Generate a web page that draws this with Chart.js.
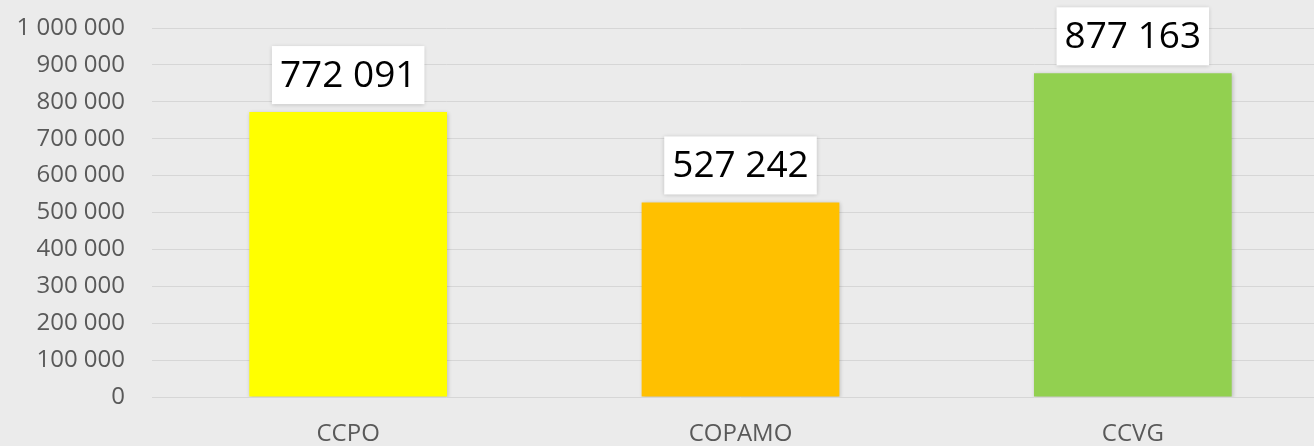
<!DOCTYPE html>
<html>
<head>
<meta charset="utf-8">
<script src="https://cdn.jsdelivr.net/npm/chart.js@4/dist/chart.umd.min.js"></script>
<style>
  html, body { margin: 0; padding: 0; background: #ebebeb; overflow: hidden; }
  #wrap { width: 1314px; height: 446px; overflow: hidden; position: relative; }
  canvas { display: block; }
</style>
</head>
<body>
<div id="wrap"><canvas id="chart" width="1329" height="446"></canvas></div>
<script>
const categories = ['CCPO', 'COPAMO', 'CCVG'];
const values = [772091, 527242, 877163];
const barColors = ['#FFFF00', '#FFC000', '#92D050'];

const fmt = v => String(v).replace(/\B(?=(\d{3})+(?!\d))/g, ' ');

// white boxed value labels above each bar
const valueLabels = {
  id: 'valueLabels',
  afterDatasetsDraw(chart) {
    const ctx = chart.ctx;
    const meta = chart.getDatasetMeta(0);
    ctx.save();
    ctx.font = '37px "Open Sans"';
    ctx.textAlign = 'center';
    ctx.textBaseline = 'middle';
    meta.data.forEach((bar, i) => {
      const text = fmt(values[i]);
      const w = ctx.measureText(text).width + 16;
      const h = 58;
      const bottom = bar.y - 8;
      ctx.shadowColor = 'rgba(0,0,0,0.18)';
      ctx.shadowBlur = 4;
      ctx.shadowOffsetY = 1;
      ctx.fillStyle = '#ffffff';
      ctx.fillRect(bar.x - w / 2, bottom - h, w, h);
      ctx.shadowColor = 'transparent';
      ctx.fillStyle = '#000000';
      ctx.fillText(text, bar.x, bottom - h / 2 + 1);
    });
    ctx.restore();
  }
};

// soft drop shadow under the bars
const barShadow = {
  id: 'barShadow',
  beforeDatasetsDraw(chart) {
    const ctx = chart.ctx;
    ctx.save();
    ctx.shadowColor = 'rgba(0,0,0,0.2)';
    ctx.shadowBlur = 4;
    ctx.shadowOffsetX = 1;
    ctx.shadowOffsetY = 1;
  },
  afterDatasetsDraw(chart) {
    chart.ctx.restore();
  }
};

new Chart(document.getElementById('chart').getContext('2d'), {
  type: 'bar',
  data: {
    labels: categories,
    datasets: [{
      data: values,
      backgroundColor: barColors,
      borderWidth: 0,
      categoryPercentage: 1,
      barPercentage: 0.504
    }]
  },
  options: {
    responsive: false,
    animation: false,
    layout: { padding: { top: 28, left: 0, right: 0, bottom: 0 } },
    plugins: {
      legend: { display: false },
      tooltip: { enabled: false }
    },
    scales: {
      x: {
        grid: { display: false },
        border: { display: false },
        ticks: {
          color: '#595959',
          font: { family: 'Open Sans', size: 24 },
          padding: 15
        },
        afterFit(scale) { scale.height = 49; }
      },
      y: {
        min: 0,
        max: 1000000,
        grid: { color: '#d6d6d6', lineWidth: 1, drawTicks: false },
        border: { display: false },
        ticks: {
          stepSize: 100000,
          color: '#595959',
          font: { family: 'Open Sans', size: 24 },
          padding: 27,
          callback: v => fmt(v)
        },
        afterFit(scale) {
          scale.width = 152;
          scale.paddingTop = 0;
          scale.paddingBottom = 0;
        }
      }
    }
  },
  plugins: [barShadow, valueLabels]
});
</script>
</body>
</html>
